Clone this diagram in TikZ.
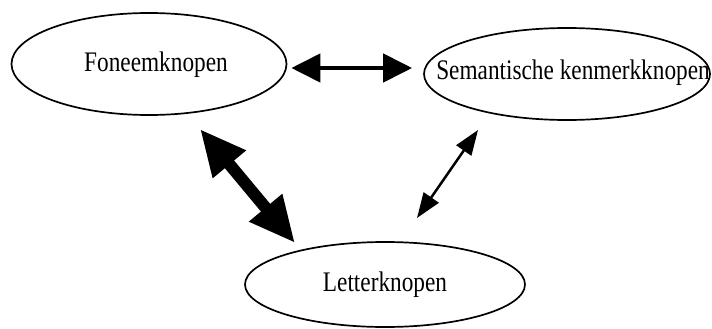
\documentclass[tikz,border=0pt]{standalone}
\usepackage{fontspec}
\setmainfont{Liberation Serif}
\usetikzlibrary{shapes.geometric,arrows.meta}
\newcommand{\tallt}[1]{\scalebox{0.97}[1.18]{#1}}
\begin{document}
\begin{tikzpicture}[x=1pt,y=-1pt,
  ell/.style={draw=black, line width=1.7pt, ellipse, inner sep=0pt},
  lbl/.style={font=\fontsize{24}{26}\selectfont, inner sep=0pt},
  bigarrow/.style={line width=12pt, {Triangle[length=46pt,width=40pt]}-{Triangle[length=46pt,width=40pt]}},
  midarrow/.style={line width=4.5pt, {Triangle[length=29pt,width=28pt]}-{Triangle[length=29pt,width=28pt]}},
  smallarrow/.style={line width=2.5pt, {Triangle[length=25pt,width=18pt]}-{Triangle[length=25pt,width=18pt]}}]
\useasboundingbox (0,0) rectangle (712,329);
\fill[white] (0,0) rectangle (712,329);
% nodes
\node[ell, minimum width=275pt, minimum height=102pt] (fon) at (149,64) {};
\node[lbl] (fonl) at (156,65) {\tallt{Foneemknopen}};
\node[ell, minimum width=286pt, minimum height=92pt] (sem) at (567,74) {};
\node[lbl] (seml) at (573,73) {\tallt{Semantische kenmerkknopen}};
\node[ell, minimum width=280pt, minimum height=85pt] (let) at (385,284.5) {};
\node[lbl] (letl) at (385,285) {\tallt{Letterknopen}};
% arrow end points
\coordinate (fonE) at ([xshift=4pt,yshift=-4pt]fon.east);
\coordinate (semW) at ([xshift=-11pt,yshift=6pt]sem.west);
\coordinate (fonS) at (200,129);
\coordinate (letN1) at (295,243);
\coordinate (semS) at (478,130);
\coordinate (letN2) at (417,218);
% connectors
\draw[midarrow] (fonE) -- (semW);
\draw[bigarrow] (fonS) -- (letN1);
\draw[smallarrow] (semS) -- (letN2);
\end{tikzpicture}
\end{document}
